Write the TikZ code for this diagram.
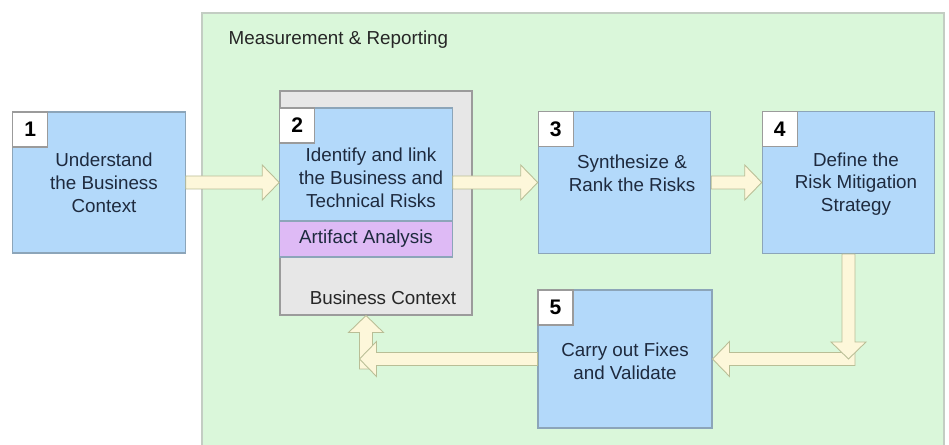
\documentclass[tikz,border=0pt]{standalone}
\usepackage{fontspec}
\setmainfont{Liberation Sans}
\usetikzlibrary{calc,positioning}
\definecolor{mrgreen}{RGB}{218,247,218}
\definecolor{mrline}{RGB}{195,205,195}
\definecolor{stepblue}{RGB}{179,217,250}
\definecolor{stepline}{RGB}{140,165,185}
\definecolor{artpurple}{RGB}{222,186,245}
\definecolor{ctxgrey}{RGB}{231,231,231}
\definecolor{ctxline}{RGB}{155,155,155}
\definecolor{arrowfill}{RGB}{253,247,218}
\definecolor{arrowline}{RGB}{185,190,150}
\definecolor{steptext}{RGB}{30,42,62}

\tikzset{
  stepbox/.style={draw=stepline, fill=stepblue, line width=0.6pt, inner sep=0pt, minimum width=3.45cm, minimum height=2.84cm},
  numbox/.style={draw=ctxline, fill=white, line width=0.6pt, inner sep=0pt, minimum size=0.7cm, anchor=north west, font=\fontsize{12}{14}\selectfont\bfseries},
  steplabel/.style={align=center, text=steptext, font=\fontsize{10.7}{13}\selectfont},
  blockarrow/.style={draw=arrowline, fill=arrowfill, line width=0.5pt, line join=miter},
}

% block arrow from #1 to tip #2
\newcommand{\flowarrow}[2]{%
  \coordinate (fa-h) at ($(#2)!0.34cm!(#1)$);
  \filldraw[blockarrow] ($(#1)!0.13cm!90:(#2)$) -- ($(fa-h)!0.13cm!90:(#2)$) -- ($(fa-h)!0.35cm!90:(#2)$)
    -- (#2) -- ($(fa-h)!0.35cm!-90:(#2)$) -- ($(fa-h)!0.13cm!-90:(#2)$) -- ($(#1)!0.13cm!-90:(#2)$) -- cycle;}

\begin{document}
\begin{tikzpicture}
  \useasboundingbox (0,0) rectangle (18.98,8.9);

  %% Measurement & Reporting area
  \node[draw=mrline, fill=mrgreen, line width=0.6pt, minimum width=14.84cm, minimum height=8.84cm, inner sep=0pt] (meas) at (11.46,4.22) {};
  \node[anchor=west, font=\fontsize{10.7}{13}\selectfont, text=black!85] (measlabel) at (4.45,8.1) {Measurement \& Reporting};

  %% Step 1
  \node[stepbox, minimum height=2.82cm] (s1) at (1.98,5.25) {};
  \node[numbox] (n1) at (s1.north west) {1};
  \node[steplabel] (t1) at ([xshift=0.1cm]s1.center) {Understand\\the Business\\Context};

  %% Step 2 inside the business context
  \node[draw=ctxline, fill=ctxgrey, line width=0.6pt, minimum width=3.84cm, minimum height=4.48cm, inner sep=0pt] (ctx) at (7.52,4.84) {};
  \node[stepbox, minimum height=2.26cm] (s2) at (7.32,5.61) {};
  \node[draw=stepline, fill=artpurple, line width=0.6pt, minimum width=3.45cm, minimum height=0.72cm, inner sep=0pt, text=steptext, font=\fontsize{10.7}{13}\selectfont] (art) at (7.32,4.12) {Artifact Analysis};
  \node[numbox] (n2) at (s2.north west) {2};
  \node[steplabel] (t2) at ([xshift=0.1cm,yshift=-0.27cm]s2.center) {Identify and link\\the Business and\\Technical Risks};
  \node[font=\fontsize{10.7}{13}\selectfont, text=black!85] (ctxlabel) at ([xshift=0.14cm,yshift=0.36cm]ctx.south) {Business Context};

  %% Steps 3, 4, 5
  \node[stepbox] (s3) at (12.49,5.25) {};
  \node[numbox] (n3) at (s3.north west) {3};
  \node[steplabel] (t3) at ([xshift=0.15cm,yshift=0.18cm]s3.center) {Synthesize \&\\Rank the Risks};

  \node[stepbox] (s4) at (16.97,5.25) {};
  \node[numbox] (n4) at (s4.north west) {4};
  \node[steplabel] (t4) at ([xshift=0.15cm,yshift=-0.03cm]s4.center) {Define the\\Risk Mitigation\\Strategy};

  \node[stepbox, minimum width=3.48cm, minimum height=2.76cm] (s5) at (12.5,1.72) {};
  \node[numbox] (n5) at (s5.north west) {5};
  \node[steplabel] (t5) at ([yshift=-0.04cm]s5.center) {Carry out Fixes\\and Validate};

  %% Arrows
  \coordinate (a12) at (s1.east -| s2.west);
  \coordinate (a23) at (s2.east |- s3.west);
  \coordinate (a4) at ([xshift=0.13cm]s4.south |- s5.east);
  \coordinate (a45) at (s4.south |- s5.east);
  \coordinate (a5) at ([yshift=-0.2cm]s2.south |- s5.west);
  \coordinate (a52) at ([xshift=-0.13cm]s2.south |- s5.west);
  \coordinate (actx) at (s2.south |- ctx.south);

  \flowarrow{s1.east}{a12}
  \flowarrow{a23}{s3.west}
  \flowarrow{s3.east}{s4.west}
  \flowarrow{a4}{s5.east}
  \flowarrow{s4.south}{a45}
  \flowarrow{a5}{actx}
  \flowarrow{s5.west}{a52}
\end{tikzpicture}
\end{document}
